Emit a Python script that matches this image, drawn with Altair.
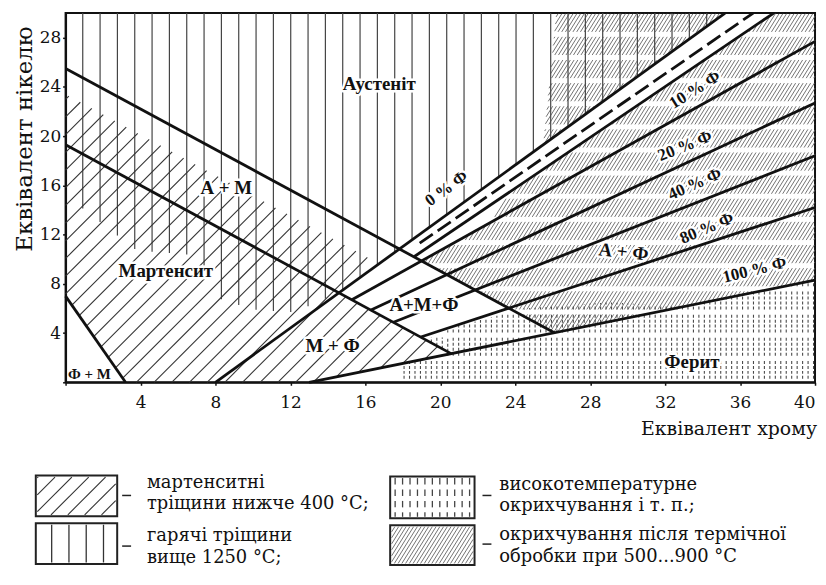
import math
import altair as alt
import pandas as pd

# ---------------- layout of the plot area (page pixels) ----------------
PLOT_LEFT, PLOT_TOP = 66, 11
PLOT_W, PLOT_H = 755, 372
X_DOMAIN = [0, 40]
Y_DOMAIN = [0, 30]
X_TICKS = [0, 4, 8, 12, 16, 20, 24, 28, 32, 36, 40]
Y_TICKS = [0, 4, 8, 12, 16, 20, 24, 28]
SX = PLOT_W / (X_DOMAIN[1] - X_DOMAIN[0])
SY = PLOT_H / (Y_DOMAIN[1] - Y_DOMAIN[0])

# ---------------- boundary lines (Cr-equivalent, Ni-equivalent) ----------------
LINE_NAMES = ["U", "L", "B", "FM", "F0", "F10", "F20", "F40", "F80", "F100"]
LINE_X1 = [0.0, 0.0, 13.0, 0.0, 8.0, 18.6, 15.28, 16.3, 17.5, 18.96]
LINE_Y1 = [25.5, 19.3, 0.0, 7.0, 0.0, 10.2, 6.7, 5.87, 4.88, 3.68]
LINE_X2 = [26.09, 20.58, 40.0, 3.2, 35.2, 37.8, 40.0, 40.0, 40.0, 40.0]
LINE_Y2 = [4.02, 2.33, 8.3, 0.0, 30.0, 30.0, 27.7, 22.7, 18.4, 14.2]
DASH_X = [18.9, 36.7]
DASH_Y = [11.3, 30.0]

# ---------------- hatched regions ----------------
VERT_X = [0.0, 35.2, 14.59, 12.2, 10.0, 7.8, 7.2, 3.8, 0.0]
VERT_Y = [30.0, 30.0, 7.27, 5.7, 5.9, 7.0, 10.3, 10.7, 15.2]
SPARSE_X = [0.0, 0.0, 16.73, 14.59, 20.58, 13.0, 3.2]
SPARSE_Y = [7.0, 23.4, 9.63, 7.27, 2.33, 0.0, 0.0]
DENSE1_X = [25.5, 26.2, 35.2]
DENSE1_Y = [19.3, 30.0, 30.0]
DENSE2_X = [19.0, 22.5, 23.5, 37.8, 40.0, 40.0, 26.09]
DENSE2_Y = [9.87, 12.85, 15.25, 30.0, 30.0, 8.3, 4.02]
DOT_X = [18.0, 40.0, 40.0, 33.0, 29.0, 24.5, 21.0, 19.2, 20.58, 18.0]
DOT_Y = [0.0, 0.0, 8.3, 6.15, 6.5, 6.0, 4.6, 3.5, 2.33, 1.54]

# ---------------- region labels ----------------
REG_LABELS = ["Аустеніт", "А + М", "Мартенсит", "М + Ф", "А+М+Ф", "Ферит", "А + Ф"]
REG_X = [16.74, 8.58, 5.35, 14.25, 19.13, 33.43, 29.78]
REG_Y = [24.27, 15.8, 9.03, 2.98, 6.29, 1.61, 10.6]
REG_ANGLE = [0, 0, 0, 0, 0, 0, 6]
SMALL_LABEL = ["Ф + М"]
SMALL_X = [1.27]
SMALL_Y = [0.7]

PCT_LABELS = ["0 % Ф", "10 % Ф", "20 % Ф", "40 % Ф", "80 % Ф", "100 % Ф"]
PCT_X = [20.34, 33.59, 33.06, 33.59, 34.23, 36.77]
PCT_Y = [15.73, 23.75, 19.19, 16.09, 12.5, 9.11]
PCT_ANGLE = [324, 328, 338, 336, 337, 346]

# ---------------- legend (page pixel layout) ----------------
LEG_BOX_LEFT = [36, 36, 393, 393]
LEG_BOX_TOP = [477, 525, 478, 527]
LEG_BOX_RIGHT = [118, 118, 478, 478]
LEG_BOX_BOTTOM = [518, 566, 520, 567]
LEG_DASH_X = [123, 123, 486, 486]
LEG_DASH_Y = [497, 548, 497, 546]
LEG_TEXT = ["мартенситні", "тріщини нижче 400 °С;", "гарячі тріщини", "вище 1250 °С;",
            "високотемпературне", "окрихчування і т. п.;",
            "окрихчування після термічної", "обробки при 500...900 °С"]
LEG_TEXT_X = [148, 148, 148, 148, 503, 503, 503, 503]
LEG_TEXT_Y = [484, 506, 538, 560, 486, 508, 537, 559]


def page_to_data(px, py):
    return ((px - PLOT_LEFT) / SX, (PLOT_TOP + PLOT_H - py) / SY)


def hatch(xs, ys, angle, spacing, phase=(0.0, 0.0), band=None):
    """Clip parallel hatch lines (angle in screen degrees) to a polygon given in data units."""
    P = [(x * SX, y * SY) for x, y in zip(xs, ys)]
    a = math.radians(angle)
    d = (math.cos(a), math.sin(a))
    n = (-math.sin(a), math.cos(a))
    cs = [n[0] * X + n[1] * Y for X, Y in P]
    ph = n[0] * phase[0] + n[1] * phase[1]
    k0 = math.ceil((min(cs) - ph) / spacing)
    k1 = math.floor((max(cs) - ph) / spacing)
    m = len(P)
    out = []
    for k in range(k0, k1 + 1):
        c = ph + k * spacing
        ts = []
        for i in range(m):
            A, B = P[i], P[(i + 1) % m]
            sa, sb = cs[i] - c, cs[(i + 1) % m] - c
            if (sa < 0) != (sb < 0):
                f = sa / (sa - sb)
                X = A[0] + (B[0] - A[0]) * f
                Y = A[1] + (B[1] - A[1]) * f
                ts.append(d[0] * X + d[1] * Y)
        ts.sort()
        for j in range(0, len(ts) - 1, 2):
            ivs = [(ts[j], ts[j + 1])]
            if band is not None and abs(d[1]) > 1e-9:
                bph, per, gap = band
                Ya = n[1] * c + d[1] * ts[j]
                Yb = n[1] * c + d[1] * ts[j + 1]
                lo, hi = min(Ya, Yb), max(Ya, Yb)
                ivs = []
                kk = math.floor((lo - bph) / per) - 1
                while True:
                    s = bph + kk * per + gap
                    e = bph + (kk + 1) * per
                    if s >= hi:
                        break
                    a_, b_ = max(lo, s), min(hi, e)
                    if b_ > a_:
                        ivs.append(((a_ - n[1] * c) / d[1], (b_ - n[1] * c) / d[1]))
                    kk += 1
            for u0, u1 in ivs:
                X0, Y0 = n[0] * c + d[0] * u0, n[1] * c + d[1] * u0
                X1, Y1 = n[0] * c + d[0] * u1, n[1] * c + d[1] * u1
                out.append((X0 / SX, Y0 / SY, X1 / SX, Y1 / SY))
    return pd.DataFrame(out, columns=["x", "y", "x2", "y2"])


BAND = (348 - 14 * 23.3, 23.3, 5.0)

vert_df = hatch(VERT_X, VERT_Y, 90, 17.46, phase=(17.3, 0))
sparse_df = hatch(SPARSE_X, SPARSE_Y, 45, 12.6)
dense_df = pd.concat([hatch(DENSE1_X, DENSE1_Y, 58, 3.2, band=BAND),
                      hatch(DENSE2_X, DENSE2_Y, 58, 3.2, band=BAND)])
dot_df = hatch(DOT_X, DOT_Y, 90, 5.5, band=BAND)

# legend swatches in data units
def box_poly(i, inset=1.5):
    x0, y0 = page_to_data(LEG_BOX_LEFT[i] + inset, LEG_BOX_BOTTOM[i] - inset)
    x1, y1 = page_to_data(LEG_BOX_RIGHT[i] - inset, LEG_BOX_TOP[i] + inset)
    return [x0, x1, x1, x0], [y0, y0, y1, y1]

bx, by = box_poly(0)
leg_sparse = hatch(bx, by, 45, 12.0)
bx, by = box_poly(1)
leg_vert = hatch(bx, by, 90, 17.4, phase=(52 - PLOT_LEFT, 0))
bx, by = box_poly(2)
leg_dot_band = ((PLOT_TOP + PLOT_H - LEG_BOX_BOTTOM[2]) + 6, 11.5, 5.0)
leg_dot = hatch(bx, by, 90, 7.5, phase=(398 - PLOT_LEFT, 0), band=leg_dot_band)
bx, by = box_poly(3)
leg_dense = hatch(bx, by, 58, 3.2)

boxes = []
for i in range(4):
    x0, y0 = page_to_data(LEG_BOX_LEFT[i], LEG_BOX_BOTTOM[i])
    x1, y1 = page_to_data(LEG_BOX_RIGHT[i], LEG_BOX_TOP[i])
    boxes.append((x0, y0, x1, y1))
box_df = pd.DataFrame(boxes, columns=["x", "y", "x2", "y2"])

dashes = []
for i in range(4):
    x0, y0 = page_to_data(LEG_DASH_X[i], LEG_DASH_Y[i])
    x1, _ = page_to_data(LEG_DASH_X[i] + 9, LEG_DASH_Y[i])
    dashes.append((x0, y0, x1, y0))
dash_leg_df = pd.DataFrame(dashes, columns=["x", "y", "x2", "y2"])

leg_text_df = pd.DataFrame({
    "t": LEG_TEXT,
    "x": [page_to_data(px, 0)[0] for px in LEG_TEXT_X],
    "y": [page_to_data(0, py)[1] for py in LEG_TEXT_Y],
})

lines_df = pd.DataFrame({"name": LINE_NAMES, "x": LINE_X1, "y": LINE_Y1, "x2": LINE_X2, "y2": LINE_Y2})
dash_df = pd.DataFrame({"x": [DASH_X[0]], "y": [DASH_Y[0]], "x2": [DASH_X[1]], "y2": [DASH_Y[1]]})
reg_df = pd.DataFrame({"t": REG_LABELS, "x": REG_X, "y": REG_Y, "a": REG_ANGLE})
small_df = pd.DataFrame({"t": SMALL_LABEL, "x": SMALL_X, "y": SMALL_Y})
pct_df = pd.DataFrame({"t": PCT_LABELS, "x": PCT_X, "y": PCT_Y, "a": PCT_ANGLE})

SERIF = "Liberation Serif"
WIDE = "DejaVu Serif"
xs = alt.Scale(domain=X_DOMAIN, nice=False, zero=False)
ys = alt.Scale(domain=Y_DOMAIN, nice=False, zero=False)
x_axis = alt.Axis(values=X_TICKS, labelExpr="datum.value == 0 ? '' : datum.label",
                  labelFlush=True, tickSize=3, labelPadding=9, grid=False)
y_axis = alt.Axis(values=Y_TICKS, labelExpr="datum.value == 0 ? '' : datum.label",
                  tickSize=3, labelPadding=2, grid=False)
X = alt.X("x:Q", scale=xs, axis=x_axis, title=None)
Y = alt.Y("y:Q", scale=ys, axis=y_axis, title=None)


def rules(df, color, width, dash=None):
    kw = dict(color=color, strokeWidth=width)
    if dash:
        kw["strokeDash"] = dash
    return alt.Chart(df).mark_rule(**kw).encode(x=X, y=Y, x2="x2:Q", y2="y2:Q")


def texts(df, size, weight, align="center", halo=True, angle=False, font=SERIF):
    enc = dict(x=X, y=Y, text="t:N")
    if angle:
        enc["angle"] = alt.Angle("a:Q", scale=None)
    out = []
    if halo:
        out.append(alt.Chart(df).mark_text(font=font, fontSize=size, fontWeight=weight, align=align,
                                           baseline="middle", stroke="white", strokeWidth=5,
                                           strokeJoin="round", fill="white").encode(**enc))
    out.append(alt.Chart(df).mark_text(font=font, fontSize=size, fontWeight=weight, align=align,
                                       baseline="middle", color="#111").encode(**enc))
    return out


title_df = pd.DataFrame({"t": ["Еквівалент хрому"]})
ytitle_df = pd.DataFrame({"t": ["Еквівалент нікелю"]})
x_title = alt.Chart(title_df).mark_text(font=WIDE, fontSize=19, align="right", baseline="middle",
                                        color="#111").encode(
    x=alt.value(823 - PLOT_LEFT), y=alt.value(430 - PLOT_TOP), text="t:N")
y_title = alt.Chart(ytitle_df).mark_text(font=WIDE, fontSize=23, align="center", baseline="middle",
                                         angle=270, color="#111").encode(
    x=alt.value(25 - PLOT_LEFT), y=alt.value(138 - PLOT_TOP), text="t:N")

layers = [
    rules(dense_df, "#636363", 0.9),
    rules(dot_df, "#4a4a4a", 1.1, dash=[3, 2]),
    rules(vert_df, "#444", 1.2),
    rules(sparse_df, "#333", 1.1),
    rules(lines_df, "#111", 2.8),
    rules(dash_df, "#111", 2.8, dash=[16, 6]),
    *texts(reg_df, 19, "bold", angle=True),
    *texts(small_df, 15, "bold", halo=False),
    *texts(pct_df, 17, "bold", angle=True),
    rules(leg_sparse, "#333", 1.1),
    rules(leg_vert, "#333", 1.3),
    rules(leg_dot, "#444", 1.3),
    rules(leg_dense, "#636363", 0.9),
    alt.Chart(box_df).mark_rect(fillOpacity=0, stroke="#222", strokeWidth=2).encode(
        x=X, y=Y, x2="x2:Q", y2="y2:Q"),
    rules(dash_leg_df, "#222", 1.5),
    *texts(leg_text_df, 18, "normal", align="left", halo=False, font=WIDE),
    x_title,
    y_title,
]

chart = alt.layer(*layers).properties(
    width=PLOT_W, height=PLOT_H,
    autosize=alt.AutoSizeParams(type="none"),
    padding={"left": PLOT_LEFT - 8, "top": PLOT_TOP - 8, "right": 3, "bottom": 184},
).configure_view(stroke="#111", strokeWidth=2).configure_axis(
    domainColor="#111", domainWidth=2, tickColor="#111", tickWidth=1.5,
    labelFont=WIDE, labelFontSize=17, labelColor="#111",
)

chart.save("out.html", embed_options={"renderer": "svg", "actions": False})
